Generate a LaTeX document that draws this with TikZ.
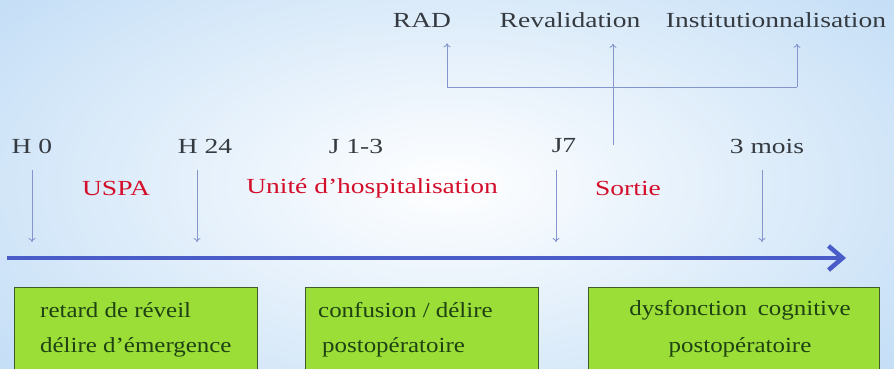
\documentclass[tikz,border=0pt]{standalone}
\usepackage{fontspec}
\setmainfont{Liberation Serif}
\newfontfamily\widefont[FakeStretch=1.28]{Liberation Serif}
\newfontfamily\boxfont[FakeStretch=1.16]{Liberation Serif}
\usepackage{tikz}
\usetikzlibrary{positioning}
\usetikzlibrary{arrows.meta}
\definecolor{bgblue}{HTML}{C2DDF6}
\definecolor{axisblue}{HTML}{4A5CC8}
\definecolor{tickblue}{HTML}{8494CC}
\definecolor{labelgray}{HTML}{353A40}
\definecolor{phasered}{HTML}{D40E2A}
\definecolor{boxgreen}{HTML}{9CDE38}
\definecolor{boxedge}{HTML}{3F5A2C}
\definecolor{boxtext}{HTML}{1E4212}
\tikzset{
  timelbl/.style={text=labelgray, font=\widefont\fontsize{21.5}{24}\selectfont, inner sep=0pt},
  phaselbl/.style={text=phasered, font=\widefont\fontsize{21.5}{24}\selectfont, inner sep=0pt},
  thinarrow/.style={draw=tickblue, line width=0.9pt, -{To[length=4pt,width=7pt]}},
  greenbox/.style={draw=boxedge, fill=boxgreen, line width=1pt},
  boxlbl/.style={text=boxtext, font=\boxfont\fontsize{21.5}{24}\selectfont, inner sep=0pt, anchor=west}
}
\begin{document}
\begin{tikzpicture}[x=1pt, y=-1pt]
\useasboundingbox (0,0) rectangle (894,368);
\shade[inner color=white, outer color=bgblue] (-150,-120) rectangle (1044,488);
% -- top: outcomes --
\node[timelbl] (rad) at (422,20) {RAD};
\node[timelbl] (reval) at (570,20) {Revalidation};
\node[timelbl] (inst) at (776,20) {Institutionnalisation};
\coordinate (fork) at (613,145);
\coordinate (barL) at (447,87);
\coordinate (barR) at (797,87);
\draw[thinarrow] (fork) -- ([yshift=-16pt]fork |- reval.south);
\draw[draw=tickblue, line width=0.9pt] (barL) -- (barR);
\draw[thinarrow] (barL) -- ([yshift=-16pt]barL |- rad.south);
\draw[thinarrow] (barR) -- ([yshift=-16pt]barR |- inst.south);
% -- time marks --
\node[timelbl] (h0) at (32,146) {H 0};
\node[timelbl] (h24) at (205,146) {H 24};
\node[timelbl] (j13) at (356,146) {J 1-3};
\node[timelbl] (j7) at (564,146) {J7};
\node[timelbl] (m3) at (767,146) {3 mois};
% -- phases --
\node[phaselbl] (uspa) at (116,188) {USPA};
\node[phaselbl] (hosp) at (372,188) {Unité d’hospitalisation};
\node[phaselbl] (sortie) at (628,188) {Sortie};
% -- axis --
\coordinate (axisL) at (7,258);
\coordinate (axisR) at (846,258);
\draw[draw=axisblue, line width=4pt, -{Straight Barb[length=14pt,width=24pt,line width=4.5pt]}] (axisL) -- (axisR);
\coordinate (a0) at (32,170);
\coordinate (a24) at (197,170);
\coordinate (a7) at (556,170);
\coordinate (am3) at (762,170);
\draw[thinarrow] (a0) -- ([yshift=16pt]a0 |- axisL);
\draw[thinarrow] (a24) -- ([yshift=16pt]a24 |- axisL);
\draw[thinarrow] (a7) -- ([yshift=16pt]a7 |- axisL);
\draw[thinarrow] (am3) -- ([yshift=16pt]am3 |- axisL);
% -- boxes --
\draw[greenbox] (14,287) rectangle (257,380);
\draw[greenbox] (305,287) rectangle (538,380);
\draw[greenbox] (588,287) rectangle (879,380);
\node[boxlbl] (b1a) at (40,310) {retard de réveil};
\node[boxlbl] (b1b) at (40,347) {délire d’émergence};
\node[boxlbl] (b2a) at (318,310) {confusion / délire};
\node[boxlbl] (b2b) at (322,347) {postopératoire};
\node[boxlbl, anchor=center] (b3a) at (740,310) {dysfonction\enspace cognitive};
\node[boxlbl, anchor=center] (b3b) at (740,347) {postopératoire};
\end{tikzpicture}
\end{document}
